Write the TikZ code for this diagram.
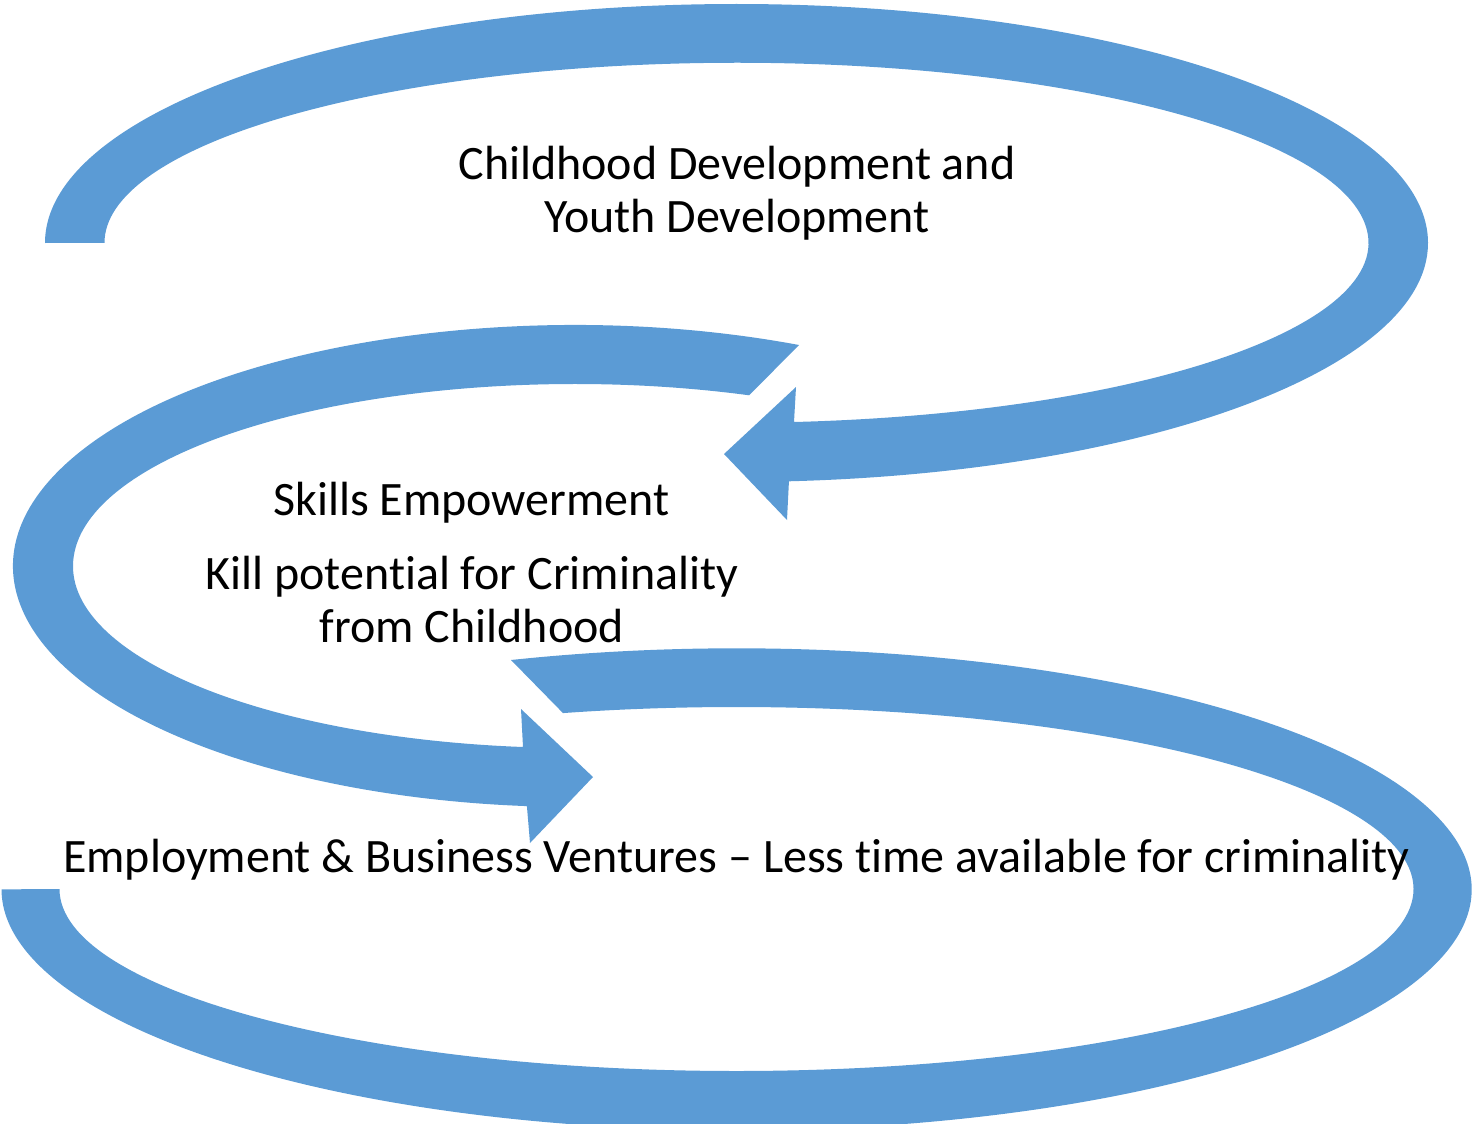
\documentclass[tikz,border=0pt]{standalone}
\usepackage{fontspec}
\setmainfont{Carlito}[Ligatures={TeX,NoCommon}]
\usepackage{tikz}
\definecolor{loopblue}{RGB}{91,155,213}

\begin{document}
\begin{tikzpicture}[x=1pt, y=-1pt, band/.style={fill=loopblue}, caption/.style={align=center, inner sep=0pt, font=\fontsize{48}{53}\selectfont}]
        \useasboundingbox (0, 0) rectangle (1478, 1124);
        \fill [band] (45, 243) arc [start angle=180, end angle=-85.65, x radius=691.5pt, y radius=239pt] -- (787, 520) -- (724, 454) -- (796, 387) -- (794, 422) arc [start angle=-84.78, end angle=180, x radius=632pt, y radius=180pt] -- cycle;
        \fill [band] (799, 345) arc [start angle=66.5, end angle=265.1, x radius=562pt, y radius=241pt] -- (530, 843) -- (593, 777) -- (521, 709) -- (523, 747) arc [start angle=264.05, end angle=69.7, x radius=502pt, y radius=182pt] -- cycle;
        \fill [band] (511, 660) arc [start angle=107.87, end angle=-180, x radius=735pt, y radius=241pt] -- (59.5, 889) arc [start angle=-180, end angle=104.85, x radius=677pt, y radius=182pt] -- cycle;
        \node (youth) at (737, 193) [caption] {Childhood Development and\\Youth Development};
        \node (skills) at (471.5, 503) [caption] {Skills Empowerment};
        \node (crime) at (472, 599) [caption] {Kill potential for Criminality\\from Childhood};
        \node (work) at (736.5, 860) [caption] {Employment \& Business Ventures – Less time available for criminality};
\end{tikzpicture}
\end{document}
